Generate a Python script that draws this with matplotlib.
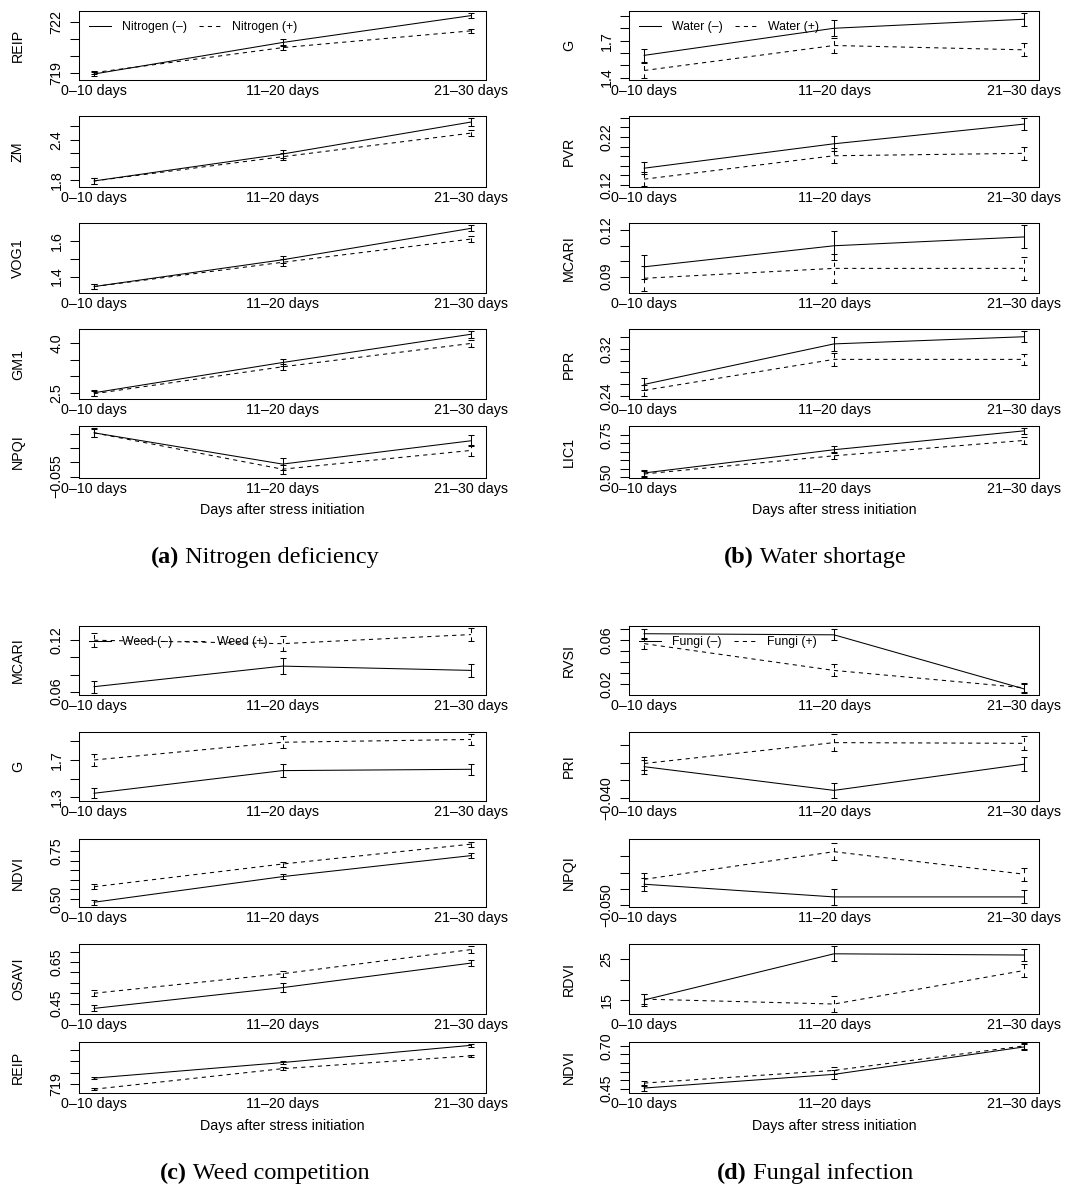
import matplotlib
matplotlib.use("Agg")
import matplotlib.pyplot as plt
import matplotlib.transforms as mtransforms
from matplotlib.lines import Line2D

plt.rcParams['font.family'] = ['Liberation Sans', 'DejaVu Sans']

days = ["0–10 days", "11–20 days", "21–30 days"]
x = [1, 2, 3]

# (a) Nitrogen deficiency
nitro_names = ["REIP", "ZM", "VOG1", "GM1", "NPQI"]
nitro_minus = [[718.96, 720.80, 722.37], [1.79, 2.19, 2.665], [1.344, 1.494, 1.67],
               [2.50, 3.42, 4.28], [-0.0396, -0.0506, -0.0424]]
nitro_minus_se = [[0.13, 0.19, 0.16], [0.05, 0.055, 0.055], [0.015, 0.02, 0.017],
                  [0.09, 0.10, 0.10], [0.0016, 0.002, 0.0019]]
nitro_plus = [[719.04, 720.50, 721.48], [1.79, 2.15, 2.50], [1.344, 1.48, 1.61],
              [2.47, 3.29, 4.00], [-0.0396, -0.0524, -0.0458]]
nitro_plus_se = [[0.10, 0.15, 0.12], [0.04, 0.05, 0.04], [0.015, 0.018, 0.015],
                 [0.08, 0.09, 0.11], [0.0014, 0.0016, 0.0018]]
nitro_ylim = [(718.61, 722.64), (1.70, 2.755), (1.308, 1.70), (2.31, 4.44), (-0.0555, -0.0372)]
nitro_ticks = [[719, 720, 721, 722], [1.8, 2.0, 2.2, 2.4, 2.6], [1.4, 1.5, 1.6],
               [2.5, 3.0, 3.5, 4.0], [-0.055, -0.050, -0.045, -0.040]]
nitro_ticklabels = [["719", "", "", "722"], ["1.8", "", "", "2.4", ""], ["1.4", "", "1.6"],
                    ["2.5", "", "", "4.0"], ["−0.055", "", "", ""]]

# (b) Water shortage
water_names = ["G", "PVR", "MCARI", "PPR", "LIC1"]
water_minus = [[1.58, 1.80, 1.873], [0.155, 0.206, 0.247], [0.0964, 0.110, 0.1157],
               [0.260, 0.328, 0.340], [0.524, 0.662, 0.774]]
water_minus_se = [[0.05, 0.065, 0.054], [0.012, 0.0155, 0.0126], [0.0077, 0.0093, 0.0074],
                  [0.010, 0.012, 0.009], [0.02, 0.02, 0.018]]
water_plus = [[1.457, 1.66, 1.625], [0.132, 0.181, 0.186], [0.089, 0.0954, 0.0954],
              [0.250, 0.302, 0.302], [0.518, 0.626, 0.717]]
water_plus_se = [[0.06, 0.06, 0.054], [0.014, 0.016, 0.013], [0.008, 0.0094, 0.0075],
                 [0.009, 0.011, 0.009], [0.02, 0.02, 0.02]]
water_ylim = [(1.38, 1.94), (0.1157, 0.264), (0.0795, 0.1247), (0.2355, 0.353), (0.494, 0.803)]
water_ticks = [[1.4, 1.5, 1.6, 1.7, 1.8, 1.9], [0.12, 0.14, 0.16, 0.18, 0.20, 0.22, 0.24, 0.26],
               [0.09, 0.10, 0.11, 0.12], [0.24, 0.26, 0.28, 0.30, 0.32, 0.34],
               [0.50, 0.55, 0.60, 0.65, 0.70, 0.75]]
water_ticklabels = [["1.4", "", "", "1.7", "", ""], ["0.12", "", "", "", "", "0.22", "", ""],
                    ["0.09", "", "", "0.12"], ["0.24", "", "", "", "0.32", ""],
                    ["0.50", "", "", "", "", "0.75"]]

# (c) Weed competition
weed_names = ["MCARI", "G", "NDVI", "OSAVI", "REIP"]
weed_minus = [[0.0658, 0.0898, 0.0848], [1.343, 1.586, 1.60], [0.483, 0.617, 0.727],
              [0.427, 0.527, 0.645], [719.5, 720.9, 722.45]]
weed_minus_se = [[0.007, 0.009, 0.0077], [0.054, 0.07, 0.057], [0.013, 0.013, 0.012],
                 [0.014, 0.02, 0.016], [0.12, 0.15, 0.12]]
weed_plus = [[0.120, 0.116, 0.1266], [1.70, 1.89, 1.92], [0.564, 0.683, 0.787],
             [0.500, 0.594, 0.710], [718.5, 720.35, 721.5]]
weed_plus_se = [[0.008, 0.009, 0.0077], [0.06, 0.066, 0.057], [0.013, 0.013, 0.013],
                [0.015, 0.015, 0.015], [0.1, 0.12, 0.1]]
weed_ylim = [(0.0561, 0.1366), (1.26, 2.00), (0.458, 0.814), (0.40, 0.737), (718.16, 722.75)]
weed_ticks = [[0.06, 0.08, 0.10, 0.12], [1.3, 1.5, 1.7, 1.9], [0.50, 0.55, 0.60, 0.65, 0.70, 0.75],
              [0.45, 0.50, 0.55, 0.60, 0.65, 0.70], [719, 720, 721, 722]]
weed_ticklabels = [["0.06", "", "", "0.12"], ["1.3", "", "1.7", ""], ["0.50", "", "", "", "", "0.75"],
                   ["0.45", "", "", "", "0.65", ""], ["719", "", "", ""]]

# (d) Fungal infection
fungi_names = ["RVSI", "PRI", "NPQI", "RDVI", "NDVI"]
fungi_minus = [[0.066, 0.065, 0.016], [-0.0311, -0.0378, -0.0304], [-0.0436, -0.0475, -0.0475],
               [15.0, 26.3, 26.0], [0.454, 0.534, 0.694]]
fungi_minus_se = [[0.0045, 0.005, 0.004], [0.002, 0.0022, 0.002], [0.002, 0.0025, 0.002],
                  [1.55, 1.85, 1.5], [0.02, 0.025, 0.017]]
fungi_plus = [[0.057, 0.0327, 0.017], [-0.0302, -0.0243, -0.0245], [-0.0421, -0.0336, -0.0405],
              [15.2, 14.0, 22.2], [0.483, 0.557, 0.700]]
fungi_plus_se = [[0.005, 0.0055, 0.004], [0.0019, 0.0023, 0.002], [0.002, 0.0026, 0.002],
                 [1.3, 1.85, 1.65], [0.015, 0.02, 0.015]]
fungi_ylim = [(0.0104, 0.073), (-0.0408, -0.0213), (-0.0506, -0.0297), (11.56, 28.7), (0.425, 0.723)]
fungi_ticks = [[0.02, 0.03, 0.04, 0.05, 0.06, 0.07], [-0.040, -0.035, -0.030, -0.025],
               [-0.050, -0.045, -0.040, -0.035], [15, 20, 25],
               [0.45, 0.50, 0.55, 0.60, 0.65, 0.70]]
fungi_ticklabels = [["0.02", "", "", "", "0.06", ""], ["−0.040", "", "", ""], ["−0.050", "", "", ""],
                    ["15", "", "25"], ["0.45", "", "", "", "", "0.70"]]

panels = [
    ("(a)", "Nitrogen deficiency", "Nitrogen", nitro_names, nitro_minus, nitro_minus_se,
     nitro_plus, nitro_plus_se, nitro_ylim, nitro_ticks, nitro_ticklabels),
    ("(b)", "Water shortage", "Water", water_names, water_minus, water_minus_se,
     water_plus, water_plus_se, water_ylim, water_ticks, water_ticklabels),
    ("(c)", "Weed competition", "Weed", weed_names, weed_minus, weed_minus_se,
     weed_plus, weed_plus_se, weed_ylim, weed_ticks, weed_ticklabels),
    ("(d)", "Fungal infection", "Fungi", fungi_names, fungi_minus, fungi_minus_se,
     fungi_plus, fungi_plus_se, fungi_ylim, fungi_ticks, fungi_ticklabels),
]

# layout in pixels of the 1078 x 1186 page
W, H = 1078, 1186
cols = [(79, 486), (629, 1039)]
rows = [[(11, 80), (116, 187), (223, 293), (329, 399), (426, 478)],
        [(626, 695), (732, 801), (839, 907), (944, 1014), (1042, 1093)]]
ylab_x = [18, 569]
xlab_top = [503, 1119]
cap_base = [563, 1179]
cap_center = [265, 815]

fig = plt.figure(figsize=(W / 100, H / 100), dpi=100)
dash = (0, (4, 4))
lw = 0.75
fs = 10.3

captions = []
for p, (tag, title, factor, names, mn, mn_se, pl, pl_se, ylims, ticks, tlabels) in enumerate(panels):
    c = p % 2
    r = p // 2
    x0, x1 = cols[c]
    for i in range(5):
        top, bot = rows[r][i]
        ax = fig.add_axes([x0 / W, 1 - bot / H, (x1 - x0) / W, (bot - top) / H])
        e1 = ax.errorbar(x, mn[i], yerr=mn_se[i], color='black', lw=lw, elinewidth=lw,
                         capsize=2.3, capthick=lw, linestyle='-')
        e2 = ax.errorbar(x, pl[i], yerr=pl_se[i], color='black', lw=lw, elinewidth=lw,
                         capsize=2.3, capthick=lw, linestyle=dash)
        e2[2][0].set_linestyle(dash)
        ax.set_xlim(0.92, 3.08)
        ax.set_ylim(*ylims[i])
        ax.set_xticks(x, days)
        ax.set_yticks(ticks[i], tlabels[i])
        ax.tick_params(axis='x', length=0, pad=3, labelsize=fs)
        ax.tick_params(axis='y', direction='out', length=6.2, width=lw, pad=5,
                       labelsize=fs, labelrotation=90)
        for lab in ax.get_yticklabels():
            lab.set_va('center')
        for s in ax.spines.values():
            s.set_linewidth(lw)
        ax.set_ylabel(names[i], fontsize=fs, va='center')
        ax.yaxis.set_label_coords(ylab_x[c] / W, 0.5,
                                  transform=mtransforms.blended_transform_factory(fig.transFigure, ax.transAxes))
        if i == 0:
            handles = [Line2D([], [], color='black', lw=lw, linestyle='-'),
                       Line2D([], [], color='black', lw=lw, linestyle=dash)]
            ax.legend(handles, [factor + " (–)", factor + " (+)"], loc='upper left', ncol=2,
                      frameon=False, fontsize=8.8, handlelength=1.8, handletextpad=0.9,
                      columnspacing=1.0, borderaxespad=0.42)
        if i == 4:
            ax.set_xlabel("Days after stress initiation", fontsize=fs, va='top')
            ax.xaxis.set_label_coords(0.5, 1 - xlab_top[r] / H,
                                      transform=mtransforms.blended_transform_factory(ax.transAxes, fig.transFigure))
    t1 = fig.text(0, 1 - cap_base[r] / H, tag, family='Liberation Serif', weight='bold',
                  fontsize=17.5, va='baseline', ha='left')
    t2 = fig.text(0, 1 - cap_base[r] / H, " " + title, family='Liberation Serif',
                  fontsize=17.5, va='baseline', ha='left')
    captions.append((t1, t2, cap_center[c]))

fig.canvas.draw()
rend = fig.canvas.get_renderer()
for t1, t2, xc in captions:
    w1 = t1.get_window_extent(rend).width
    w2 = t2.get_window_extent(rend).width
    start = xc - (w1 + w2) / 2
    t1.set_x(start / W)
    t2.set_x((start + w1) / W)

fig.savefig("out.png", dpi=100)
